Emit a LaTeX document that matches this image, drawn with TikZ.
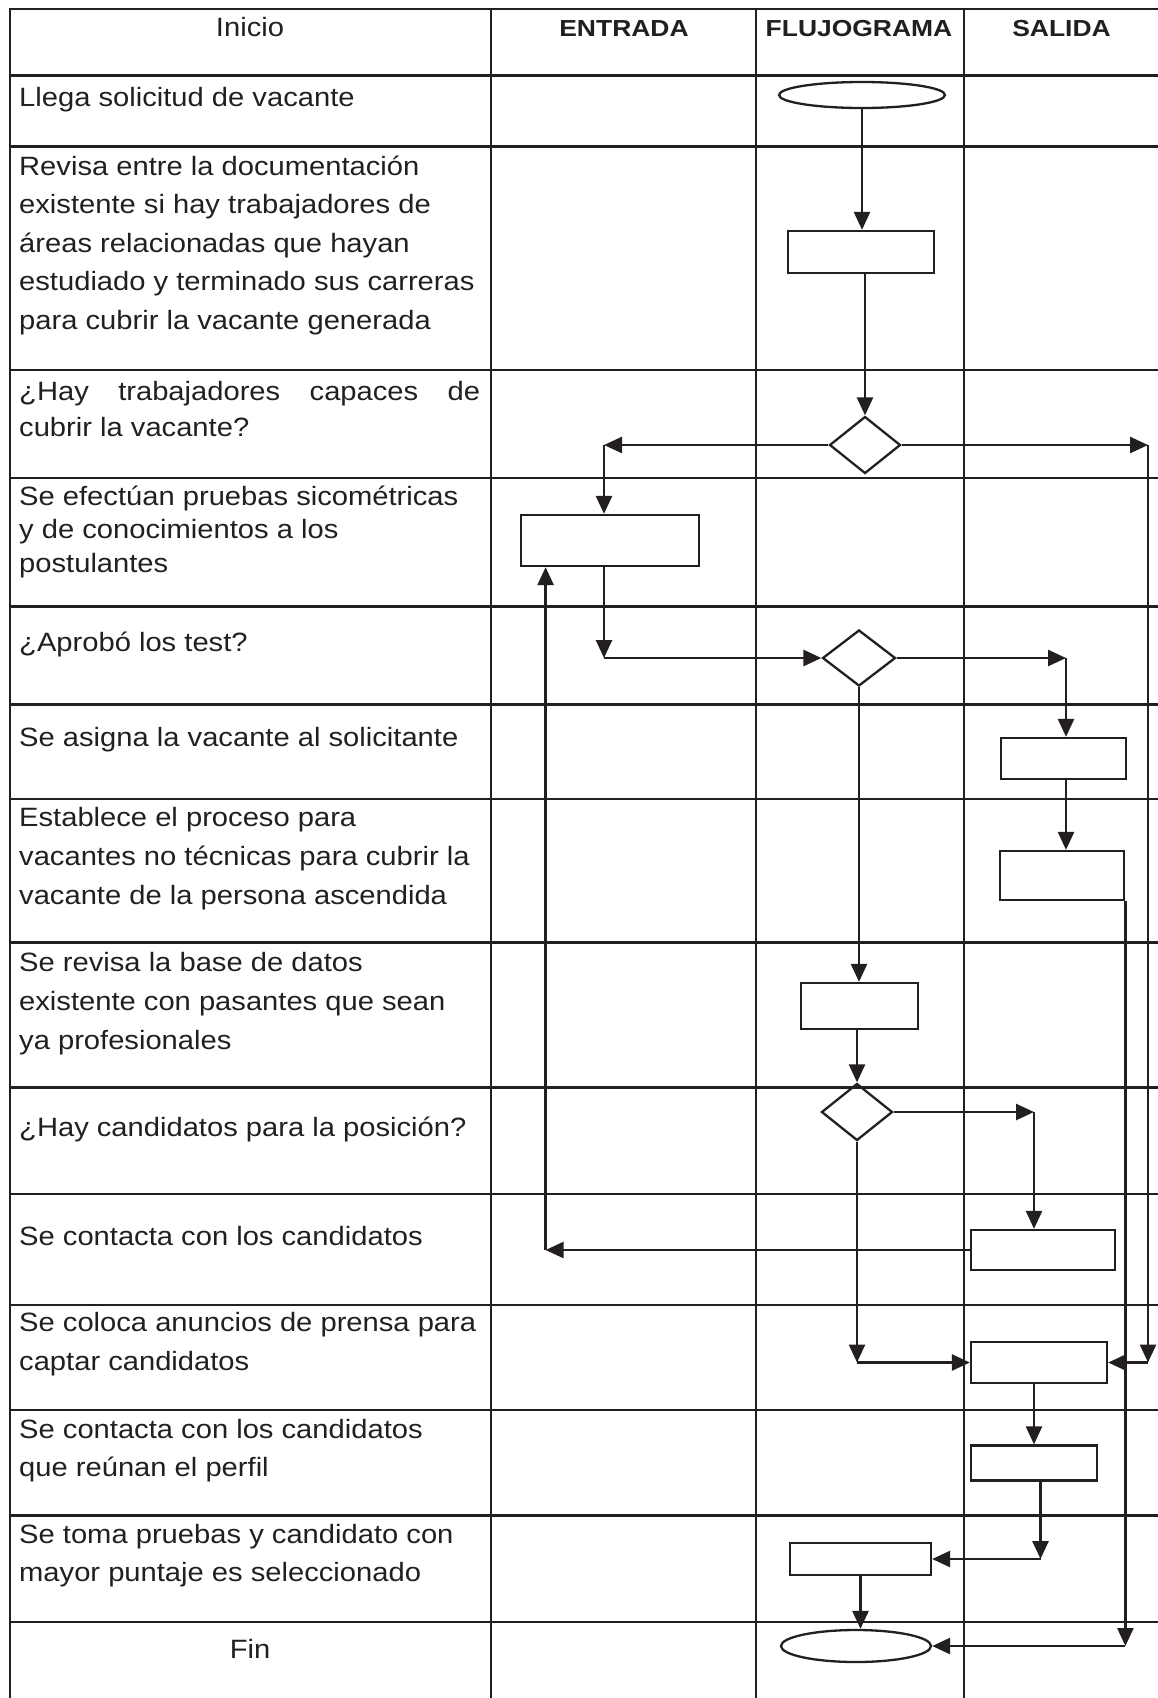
\documentclass[tikz,border=0pt]{standalone}
\usepackage{fontspec}
\setmainfont{Liberation Sans}[FakeStretch=1.10]
\newfontfamily\headfont{Liberation Sans}[FakeStretch=1.14]
\usetikzlibrary{shapes.geometric,arrows.meta}
\definecolor{ink}{RGB}{35,31,32}

% left-column cell text: first baseline is the box baseline
\newcommand\celltext[2]{\parbox[t]{470pt}{\raggedright\setlength{\baselineskip}{#1}#2}}

\tikzset{
  rule/.style={draw=ink, line width=2.5pt, line cap=rect},
  txt/.style={anchor=base west, inner sep=0pt, text=ink, font=\fontsize{26.5pt}{38.6pt}\selectfont},
  hdr/.style={anchor=base, inner sep=0pt, text=ink, font=\headfont\bfseries\fontsize{23.2pt}{28pt}\selectfont},
  proc/.style={draw=ink, line width=2.3pt, rectangle, inner sep=0pt},
  dec/.style={draw=ink, line width=2.3pt, diamond, inner sep=0pt},
  term/.style={draw=ink, line width=2.3pt, ellipse, inner sep=0pt},
  flow/.style={draw=ink, line width=2.6pt, -{Triangle[length=18pt,width=16pt]}},
}

\begin{document}
\begin{tikzpicture}[x=1pt,y=-1pt]
\useasboundingbox[fill=white] (0,0) rectangle (1157,1698);

% table grid
\foreach \y in {9,75.5,146.5,370,478,606.7,704.5,799,942.5,1087.7,1194,1305,1410,1515.7,1622}
  \draw[rule] (10,\y) -- (1160,\y);
\foreach \x in {10,491,756,964}
  \draw[rule] (\x,9) -- (\x,1705);

% headers
\node[txt, anchor=base] (hInicio) at (250,36.7) {Inicio};
\node[hdr] (hEntrada) at (624,36.7) {ENTRADA};
\node[hdr] (hFlujo) at (859,36.7) {FLUJOGRAMA};
\node[hdr] (hSalida) at (1061.5,36.7) {SALIDA};

% activity descriptions
\node[txt] (t1) at (19,106.7) {Llega solicitud de vacante};
\node[txt] (t2) at (19,175) {\celltext{38.6pt}{Revisa entre la documentación\\existente si hay trabajadores de\\áreas relacionadas que hayan\\estudiado y terminado sus carreras\\para cubrir la vacante generada}};
\node[txt] (t3) at (19,400) {\celltext{36pt}{\makebox[461pt][s]{¿Hay trabajadores capaces de}\\cubrir la vacante?}};
\node[txt] (t4) at (19,505) {\celltext{33.5pt}{Se efectúan pruebas sicométricas\\y de conocimientos a los\\postulantes}};
\node[txt] (t5) at (19,651.7) {¿Aprobó los test?};
\node[txt] (t6) at (19,746.7) {Se asigna la vacante al solicitante};
\node[txt] (t7) at (19,826.7) {\celltext{39pt}{Establece el proceso para\\vacantes no técnicas para cubrir la\\vacante de la persona ascendida}};
\node[txt] (t8) at (19,971.7) {\celltext{38.8pt}{Se revisa la base de datos\\existente con pasantes que sean\\ya profesionales}};
\node[txt] (t9) at (19,1136.7) {¿Hay candidatos para la posición?};
\node[txt] (t10) at (19,1245) {Se contacta con los candidatos};
\node[txt] (t11) at (19,1331.7) {\celltext{38.3pt}{Se coloca anuncios de prensa para\\captar candidatos}};
\node[txt] (t12) at (19,1438.3) {\celltext{38.4pt}{Se contacta con los candidatos\\que reúnan el perfil}};
\node[txt] (t13) at (19,1543.3) {\celltext{38.4pt}{Se toma pruebas y candidato con\\mayor puntaje es seleccionado}};
\node[txt, anchor=base] (t14) at (250,1658.3) {Fin};

% flowchart symbols
\node[term, minimum width=166pt, minimum height=26pt] (startE) at (862,95) {};
\node[proc, minimum width=146pt, minimum height=42pt] (box1) at (861,252) {};
\node[dec, minimum width=71pt, minimum height=57pt] (d1) at (865,445) {};
\node[proc, minimum width=178pt, minimum height=51pt] (box2) at (610,540.5) {};
\node[dec, minimum width=73pt, minimum height=56pt] (d2) at (859,658) {};
\node[proc, minimum width=125pt, minimum height=41pt] (box3) at (1063.5,758.5) {};
\node[proc, minimum width=124.5pt, minimum height=49pt] (box4) at (1062,875.5) {};
\node[proc, minimum width=117pt, minimum height=46pt] (box5) at (859.5,1006) {};
\node[dec, minimum width=71pt, minimum height=57pt] (d3) at (857,1112) {};
\node[proc, minimum width=144pt, minimum height=40pt] (box6) at (1043,1250) {};
\node[proc, minimum width=136pt, minimum height=41pt] (box7) at (1039,1362.5) {};
\node[proc, minimum width=125.6pt, minimum height=35pt] (box8) at (1034,1463) {};
\node[proc, minimum width=141pt, minimum height=31.7pt] (box9) at (860.5,1559) {};
\node[term, minimum width=150pt, minimum height=32pt] (endE) at (856,1646) {};

% bend points
\coordinate (cL1) at (604,445);
\coordinate (cR1) at (1148,445);
\coordinate (c2) at (604,658);
\coordinate (c3) at (1066,658);
\coordinate (c5) at (1034,1112);
\coordinate (c6) at (545.6,1250);
\coordinate (c7) at (857,1362.5);
\coordinate (c8) at (1148,1362.5);
\coordinate (c9) at (1040.5,1559);
\coordinate (c4) at (box4.south east |- endE.east);

% connectors
\draw[flow] (startE.south) -- (startE.south |- box1.north);
\draw[flow] (d1.north |- box1.south) -- (d1.north);
\draw[flow] (d1.west) -- (cL1);
\draw[flow] (cL1) -- (cL1 |- box2.north);
\draw[flow] (d1.east) -- (cR1);
\draw[flow] (box2.south -| c2) -- (c2);
\draw[flow] (c2) -- (d2.west);
\draw[flow] (d2.east) -- (c3);
\draw[flow] (c3) -- (c3 |- box3.north);
\draw[flow] (box3.south -| c3) -- (c3 |- box4.north);
\draw[flow] (box4.south east) -- (c4);
\draw[flow] (c4) -- (endE.east);
\draw[flow] (d2.south) -- (d2.south |- box5.north);
\draw[flow] (box5.south -| d3.north) -- (d3.north);
\draw[flow] (d3.east) -- (c5);
\draw[flow] (c5) -- (c5 |- box6.north);
\draw[flow] (box6.west) -- (c6);
\draw[flow] (c6) -- (c6 |- box2.south);
\draw[flow] (d3.south) -- (c7);
\draw[flow] (c7) -- (box7.west);
\draw[flow] (cR1) -- (c8);
\draw[flow] (c8) -- (box7.east);
\draw[flow] (box8.north |- box7.south) -- (box8.north);
\draw[flow] (box8.south -| c9) -- (c9);
\draw[flow] (c9) -- (box9.east);
\draw[flow] (box9.south) -- (box9.south |- endE.north);
\end{tikzpicture}
\end{document}
